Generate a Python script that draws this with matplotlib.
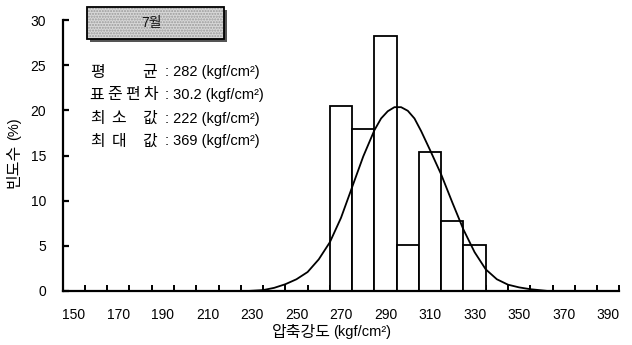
"""Histogram of July compressive strength with fitted normal curve."""
import matplotlib

matplotlib.use("Agg")

import matplotlib.pyplot as plt  # noqa: E402
from matplotlib.patches import Rectangle  # noqa: E402

plt.rcParams["font.family"] = ["Liberation Sans", "Noto Sans CJK KR", "DejaVu Sans"]

# --------------------------------------------------------------------------- #
# Data
# --------------------------------------------------------------------------- #
bin_centers = [270, 280, 290, 300, 310, 320, 330]
bin_freq = [20.5, 17.9, 28.2, 5.1, 15.4, 7.7, 5.1]
bin_width = 10

curve_x = [228, 235, 240, 245, 250, 255, 260, 265, 270, 275, 280, 285, 288,
           291, 294, 297, 300, 303, 306, 310, 315, 320, 325, 330, 335, 340,
           345, 350, 355, 363]
curve_y = [0.0, 0.1, 0.35, 0.75, 1.3, 2.1, 3.5, 5.4, 8.1, 11.5, 14.9, 17.8, 19.1,
           19.9, 20.35, 20.35, 19.95, 19.1, 17.7, 15.6, 12.9, 9.8, 6.8, 4.3, 2.4, 1.3,
           0.7, 0.4, 0.2, 0.0]

label_ticks = list(range(150, 391, 20))
boundary_ticks = list(range(155, 396, 10))
y_ticks = [0, 5, 10, 15, 20, 25, 30]

title = "7월"
stat_labels = [["평", "균"], ["표", "준", "편", "차"], ["최", "소", "값"], ["최", "대", "값"]]
stat_values = ["282", "30.2", "222", "369"]

# --------------------------------------------------------------------------- #
# Figure
# --------------------------------------------------------------------------- #
W, H = 632, 345
fig = plt.figure(figsize=(W / 100, H / 100), dpi=100)
ax = fig.add_axes([62.7 / W, 1 - 291 / H, (619.3 - 62.7) / W, (291 - 20) / H])

ax.bar(bin_centers, bin_freq, width=bin_width, facecolor="white",
       edgecolor="black", linewidth=1.3, zorder=2)
ax.plot(curve_x, curve_y, color="black", linewidth=1.3, zorder=3,
        solid_joinstyle="round")

ax.set_xlim(145, 395)
ax.set_ylim(0, 30)
for side in ("top", "right"):
    ax.spines[side].set_visible(False)
for side in ("left", "bottom"):
    ax.spines[side].set_linewidth(1.6)

ax.set_xticks(label_ticks)
ax.set_xticks(boundary_ticks, minor=True)
ax.tick_params(axis="x", which="major", length=0, pad=12, labelsize=10)
ax.tick_params(axis="x", which="minor", direction="in", length=4, width=1.4)
ax.set_yticks(y_ticks)
ax.tick_params(axis="y", direction="in", length=4, width=1.6, pad=12, labelsize=10)

fx = lambda px: px / W  # noqa: E731
fy = lambda py: 1 - py / H  # noqa: E731
HANGUL = 11.5
LATIN = 10.5

# axis titles: Hangul part drawn a bit larger, as in the scanned original
fig.text(fx(331), fy(333), "압축강도", ha="right", va="center", fontsize=HANGUL)
fig.text(fx(333), fy(332), "(kgf/cm²)", ha="left", va="center", fontsize=LATIN)
fig.text(fx(14), fy(144), "빈도수", ha="center", va="top", rotation=90, fontsize=HANGUL)
fig.text(fx(14), fy(140), "(%)", ha="center", va="bottom", rotation=90, fontsize=LATIN)

# title box with drop shadow
bx0, by0, bx1, by1 = 86.7, 6.7, 224, 39.3
fig.patches.append(Rectangle((fx(bx0 + 3), fy(by1 + 3)), fx(bx1 - bx0), (by1 - by0) / H,
                             transform=fig.transFigure, facecolor="#555555",
                             edgecolor="none", zorder=1))
fig.patches.append(Rectangle((fx(bx0), fy(by1)), fx(bx1 - bx0), (by1 - by0) / H,
                             transform=fig.transFigure, facecolor="#d8d8d8",
                             edgecolor="#9a9a9a", hatch="......", linewidth=0,
                             zorder=2))
fig.patches.append(Rectangle((fx(bx0), fy(by1)), fx(bx1 - bx0), (by1 - by0) / H,
                             transform=fig.transFigure, facecolor="none",
                             edgecolor="black", linewidth=1.3, zorder=3))
fig.text(fx(152), fy(23), title, ha="center", va="center", fontsize=10,
         color="#111111", zorder=4)

# statistics block: label characters placed at fixed column positions
rows_y = [72, 95, 118.5, 141.5]
char_x = {2: [98, 150], 3: [98, 119, 150], 4: [97, 115, 133, 151]}
colon_x = 165
for y, chars, val in zip(rows_y, stat_labels, stat_values):
    for x, ch in zip(char_x[len(chars)], chars):
        fig.text(fx(x), fy(y), ch, ha="center", va="center", fontsize=HANGUL)
    fig.text(fx(colon_x), fy(y), f": {val} (kgf/cm²)", ha="left", va="center",
             fontsize=LATIN)

fig.savefig("out.png", dpi=100)
